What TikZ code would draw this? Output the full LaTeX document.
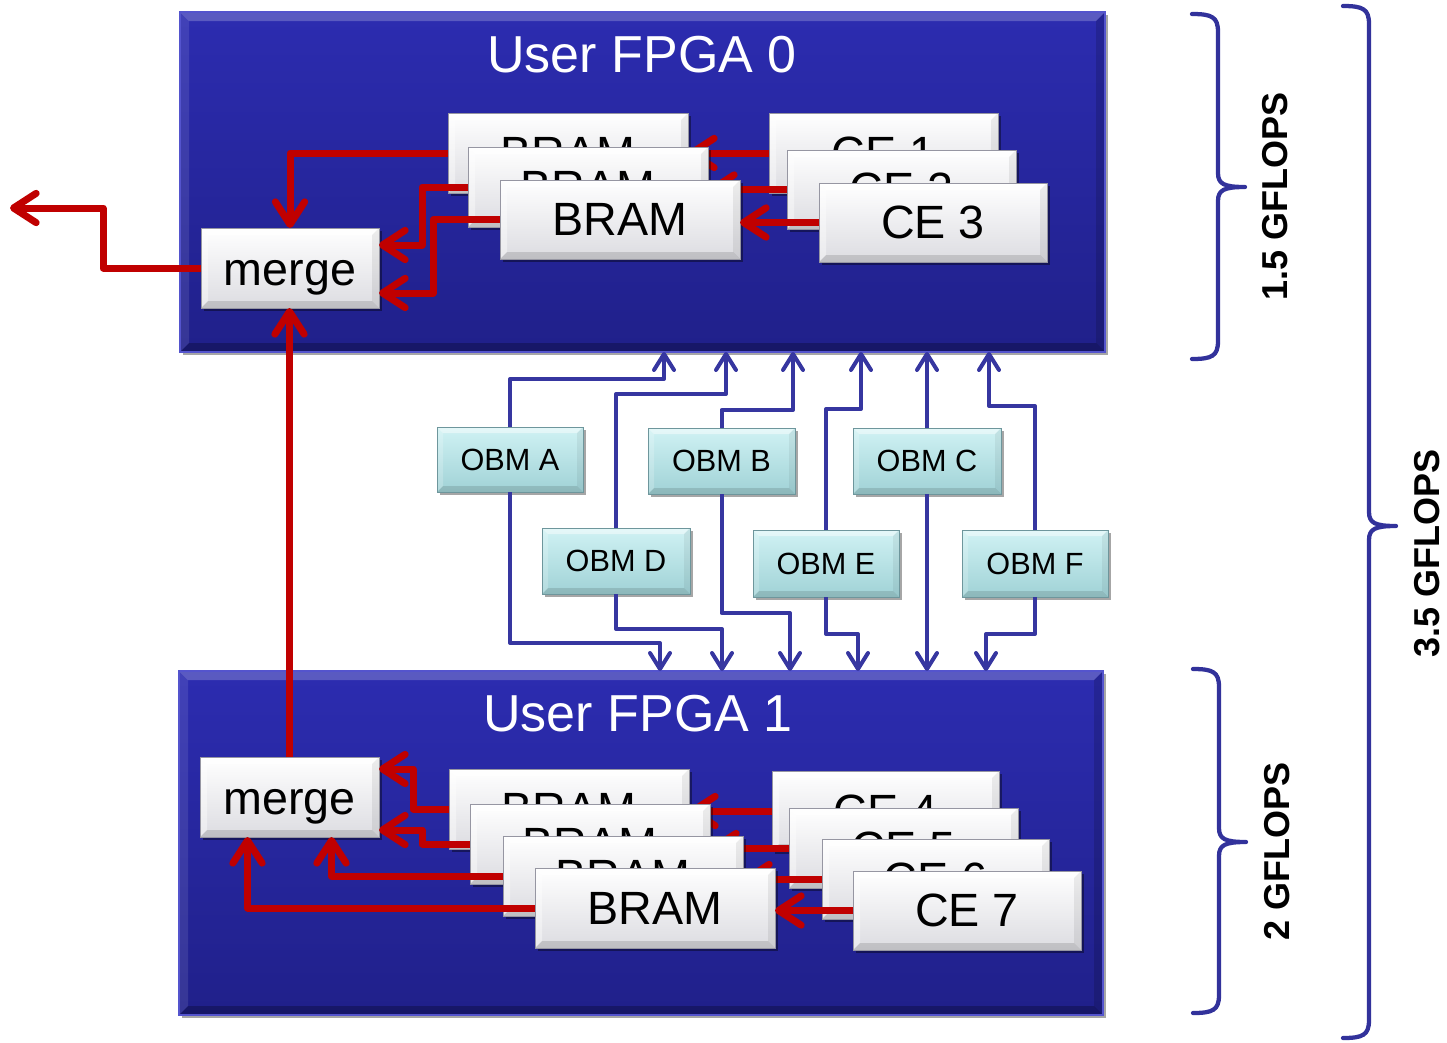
\documentclass[tikz,border=0pt]{standalone}
\usepackage{fontspec}
\setmainfont{Liberation Sans}
\usetikzlibrary{arrows.meta,shadows}

\definecolor{fpgatop}{RGB}{44,44,176}
\definecolor{fpgabot}{RGB}{32,32,138}
\definecolor{fpgaedge}{RGB}{84,84,205}
\definecolor{redline}{RGB}{192,0,0}
\definecolor{blueline}{RGB}{54,54,160}
\definecolor{bracecol}{RGB}{50,50,155}
\definecolor{obmtop}{RGB}{208,242,244}
\definecolor{obmbot}{RGB}{160,210,214}
\definecolor{obmedge}{RGB}{110,150,156}
\definecolor{boxbot}{RGB}{220,220,225}
\definecolor{boxedge}{RGB}{150,150,162}

\tikzset{
  bevel/.style n args={5}{path picture={
    \fill[#2] (path picture bounding box.north west) -- (path picture bounding box.north east)
       -- ([shift={(-#1,#1)}]path picture bounding box.north east) -- ([shift={(#1,#1)}]path picture bounding box.north west) -- cycle;
    \fill[#3] (path picture bounding box.north west) -- (path picture bounding box.south west)
       -- ([shift={(#1,-#1)}]path picture bounding box.south west) -- ([shift={(#1,#1)}]path picture bounding box.north west) -- cycle;
    \fill[#4] (path picture bounding box.south west) -- (path picture bounding box.south east)
       -- ([shift={(-#1,-#1)}]path picture bounding box.south east) -- ([shift={(#1,-#1)}]path picture bounding box.south west) -- cycle;
    \fill[#5] (path picture bounding box.north east) -- (path picture bounding box.south east)
       -- ([shift={(-#1,-#1)}]path picture bounding box.south east) -- ([shift={(-#1,#1)}]path picture bounding box.north east) -- cycle;
  }},
  fpgabox/.style={draw=fpgaedge, line width=0.8pt, top color=fpgatop, bottom color=fpgabot,
    drop shadow={shadow xshift=2.5pt, shadow yshift=-2.5pt, opacity=.35, fill=black},
    bevel={9}{white,opacity=.22}{white,opacity=.1}{black,opacity=.25}{black,opacity=.15},
    inner sep=0pt, outer sep=0pt},
  wbox/.style={draw=boxedge, line width=0.6pt, top color=white, bottom color=boxbot,
    drop shadow={shadow xshift=2.5pt, shadow yshift=-2.5pt, opacity=.4, fill=black},
    bevel={7}{white,opacity=.8}{white,opacity=.4}{black,opacity=.13}{black,opacity=.07},
    inner sep=0pt, outer sep=0pt, font=\fontsize{35}{40}\selectfont},
  mergebox/.style={wbox, text height=25.5pt, text depth=0pt},
  obm/.style={draw=obmedge, line width=0.6pt, top color=obmtop, bottom color=obmbot,
    drop shadow={shadow xshift=2pt, shadow yshift=-2pt, opacity=.35, fill=black},
    bevel={6}{white,opacity=.45}{white,opacity=.2}{black,opacity=.12}{black,opacity=.06},
    inner sep=0pt, outer sep=0pt, font=\fontsize{23}{26}\selectfont},
  title/.style={text=white, font=\fontsize{39}{44}\selectfont, inner sep=0pt},
  gflops/.style={rotate=90, font=\bfseries\fontsize{27}{30}\selectfont, inner sep=0pt},
  redarr/.style={draw=redline, line width=5.25pt, line join=round,
    -{Straight Barb[length=17pt,width=22pt,round]}},
  bluearr/.style={draw=blueline, line width=3pt, line join=round,
    -{Straight Barb[length=12pt,width=15pt,round]}},
  bracestyle/.style={draw=bracecol, line width=3.2pt, line join=round, line cap=round},
}

\newcommand\pbox[7]{\node[#6, minimum width={(#4-#2)*0.75pt}, minimum height={(#5-#3)*0.75pt}] (#1) at ({(#2+#4)/2},{(#3+#5)/2}) {#7};}
\newcommand\bracepath[4]{\draw[bracestyle] (#1,#2) .. controls ({#1+20},#2) and ({#1+26},{#2+3}) .. ({#1+26},{#2+18}) -- ({#1+26},{#3-14}) .. controls ({#1+26},{#3-3}) and ({#1+32},#3) .. ({#1+53},#3) .. controls ({#1+32},#3) and ({#1+26},{#3+3}) .. ({#1+26},{#3+14}) -- ({#1+26},{#4-18}) .. controls ({#1+26},{#4-3}) and ({#1+20},#4) .. (#1,#4);}

\begin{document}
\begin{tikzpicture}[x=0.75pt,y=-0.75pt]
\useasboundingbox (0,0) rectangle (1447,1043);

% FPGA boxes
\pbox{fpga0}{180}{12}{1105}{352}{fpgabox}{}
\pbox{fpga1}{179}{671}{1103}{1015}{fpgabox}{}
\node[title] (title0) at (642,55) {User FPGA 0};
\node[title] (title1) at (638,714) {User FPGA 1};

% top stack
\pbox{merge0}{201}{228}{379}{308}{mergebox}{merge}
\pbox{bram1}{448}{113}{688}{193}{wbox}{BRAM}
\pbox{ce1}{769}{113}{998}{193}{wbox}{CE 1}
\draw[redarr] (ce1.west) -- (ce1.west -| bram1.east);
\draw[redarr] (bram1.west) -| (merge0.north);
\pbox{bram2}{468}{147}{708}{227}{wbox}{BRAM}
\pbox{ce2}{787}{150}{1016}{229}{wbox}{CE 2}
\draw[redarr] (ce2.west) -- (ce2.west -| bram2.east);
\draw[redarr] (bram2.west) -- ++(-46,0) |- ([shift={(0,17)}]merge0.north east);
\pbox{bram3}{500}{180}{740}{259}{wbox}{BRAM}
\pbox{ce3}{819}{183}{1047}{262}{wbox}{CE 3}
\draw[redarr] (ce3.west) -- (ce3.west -| bram3.east);
\draw[redarr] (bram3.west) -- ++(-67,0) |- ([shift={(0,-15)}]merge0.south east);
\coordinate (out) at (10,208);
\draw[redarr] (merge0.west) -- ++(-98,0) |- (out);

% bottom stack
\pbox{merge1}{200}{757}{379}{837}{mergebox}{merge}
\pbox{bram4}{449}{769}{689}{849}{wbox}{BRAM}
\pbox{ce4}{772}{771}{999}{851}{wbox}{CE 4}
\draw[redarr] (ce4.west) -- (ce4.west -| bram4.east);
\draw[redarr] (bram4.west) -- ++(-36,0) |- ([shift={(0,12)}]merge1.north east);
\pbox{bram5}{470}{804}{710}{884}{wbox}{BRAM}
\pbox{ce5}{789}{808}{1018}{888}{wbox}{CE 5}
\draw[redarr] (ce5.west) -- (ce5.west -| bram5.east);
\draw[redarr] (bram5.west) -- ++(-48,0) |- ([shift={(0,-7)}]merge1.south east);
\pbox{bram6}{503}{836}{743}{916}{wbox}{BRAM}
\pbox{ce6}{822}{839}{1049}{919}{wbox}{CE 6}
\draw[redarr] (ce6.west) -- (ce6.west -| bram6.east);
\draw[redarr] (bram6.west) -| ([shift={(42,0)}]merge1.south);
\pbox{bram7}{535}{868}{775}{948}{wbox}{BRAM}
\pbox{ce7}{853}{871}{1081}{950}{wbox}{CE 7}
\draw[redarr] (ce7.west) -- (ce7.west -| bram7.east);
\draw[redarr] (bram7.west) -| ([shift={(-42,0)}]merge1.south);

% merge1 -> merge0
\draw[redarr] (merge1.north) -- (merge1.north |- merge0.south);

% OBMs
\pbox{obmA}{437}{427}{583}{492}{obm}{OBM A}
\pbox{obmB}{648}{428}{795}{494}{obm}{OBM B}
\pbox{obmC}{853}{428}{1001}{494}{obm}{OBM C}
\pbox{obmD}{542}{528}{690}{594}{obm}{OBM D}
\pbox{obmE}{753}{530}{899}{597}{obm}{OBM E}
\pbox{obmF}{962}{530}{1108}{597}{obm}{OBM F}

\coordinate (t1) at ([shift={(484,0)}]fpga0.south west);
\coordinate (t2) at ([shift={(546,0)}]fpga0.south west);
\coordinate (t3) at ([shift={(613,0)}]fpga0.south west);
\coordinate (t4) at ([shift={(681,0)}]fpga0.south west);
\coordinate (t5) at ([shift={(747,0)}]fpga0.south west);
\coordinate (t6) at ([shift={(809,0)}]fpga0.south west);
\coordinate (b1) at ([shift={(481,0)}]fpga1.north west);
\coordinate (b2) at ([shift={(543,0)}]fpga1.north west);
\coordinate (b3) at ([shift={(611,0)}]fpga1.north west);
\coordinate (b4) at ([shift={(679,0)}]fpga1.north west);
\coordinate (b5) at ([shift={(748,0)}]fpga1.north west);
\coordinate (b6) at ([shift={(807,0)}]fpga1.north west);

\draw[bluearr] (obmA.north) -- ++(0,-48) -| (t1);
\draw[bluearr] (obmA.south) -- ++(0,151) -| (b1);
\draw[bluearr] (obmD.north) -- ++(0,-134) -| (t2);
\draw[bluearr] (obmD.south) -- ++(0,35) -| (b2);
\draw[bluearr] (obmB.north) -- ++(0,-18) -| (t3);
\draw[bluearr] (obmB.south) -- ++(0,119) -| (b3);
\draw[bluearr] (obmE.north) -- ++(0,-121) -| (t4);
\draw[bluearr] (obmE.south) -- ++(0,37) -| (b4);
\draw[bluearr] (obmC.north) -- (obmC.north |- t5);
\draw[bluearr] (obmC.south) -- (obmC.south |- b5);
\draw[bluearr] (obmF.north) -- ++(0,-124) -| (t6);
\draw[bluearr] (obmF.south) -- ++(0,37) -| (b6);

% braces
\bracepath{1192}{14}{187}{359}
\bracepath{1193}{669}{842}{1013}
\bracepath{1343}{6}{526}{1038}
\node[gflops] (g1) at (1275,196) {1.5 GFLOPS};
\node[gflops] (g2) at (1277,851) {2 GFLOPS};
\node[gflops] (g3) at (1427,553) {3.5 GFLOPS};
\end{tikzpicture}
\end{document}
